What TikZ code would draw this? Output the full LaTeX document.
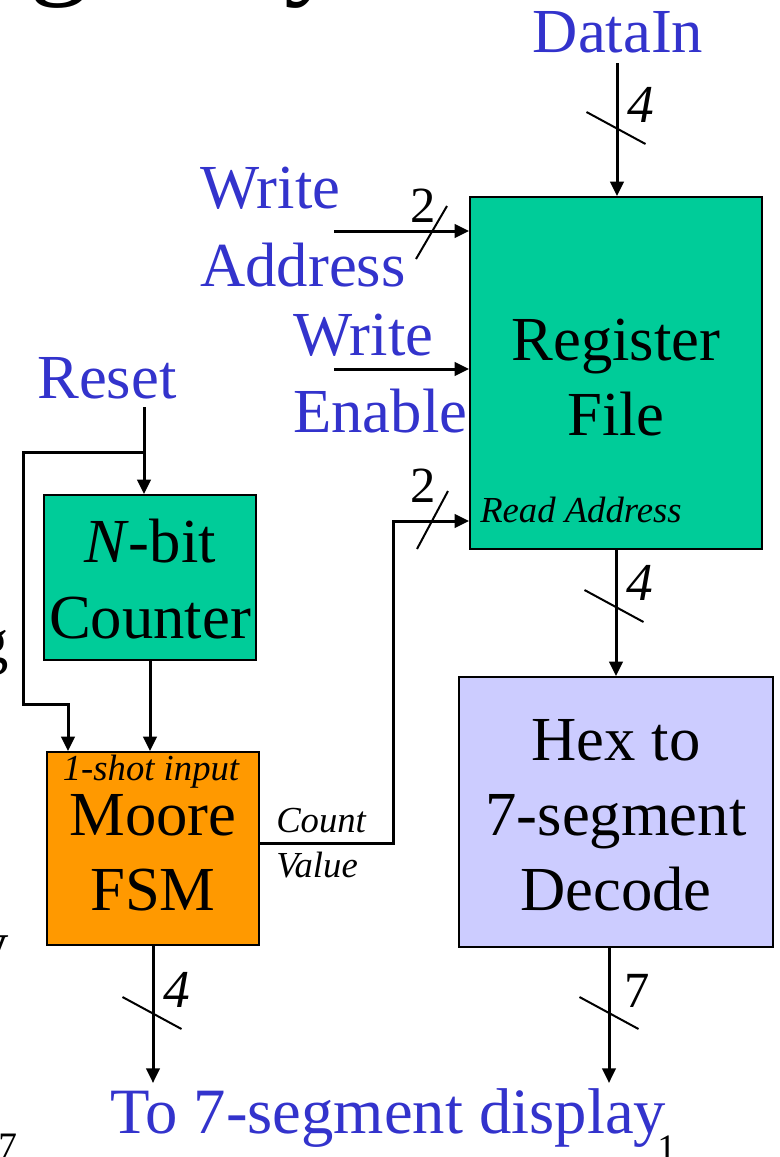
\documentclass[tikz,border=0pt]{standalone}
\usepackage{fontspec}
\setmainfont{Liberation Serif}
\usetikzlibrary{arrows.meta,calc,fit}
\definecolor{regteal}{HTML}{00CC99}
\definecolor{fsmorange}{HTML}{FF9900}
\definecolor{declav}{HTML}{CCCCFF}
\definecolor{sigblue}{HTML}{3333CC}
\tikzset{
  wire/.style={line width=2.25pt},
  sig/.style={wire, -{Triangle[length=11pt,width=10pt]}},
  busmark/.style={line width=1.5pt},
  block/.style={draw=black, line width=1.2pt, inner sep=0pt},
  bigtxt/.style={font=\fontsize{47}{56}\selectfont, inner sep=0pt},
  sigtxt/.style={bigtxt, text=sigblue},
  smalltxt/.style={font=\fontsize{27.5}{33}\selectfont\itshape, inner sep=0pt},
  widthnum/.style={font=\fontsize{38}{40}\selectfont, inner sep=0pt, anchor=base},
  widthnumit/.style={font=\fontsize{40}{42}\selectfont\itshape, inner sep=0pt, anchor=base},
  edgetxt/.style={inner sep=0pt, anchor=base west},
}
\begin{document}
\begin{tikzpicture}[x=0.75pt,y=-0.75pt]
\useasboundingbox (0,0) rectangle (780,1157);
\clip (0,0) rectangle (780,1157);

% text cut off at the edges of the slide
\node[edgetxt, font=\fontsize{90}{90}\selectfont] (tg) at (29,-18) {g};
\node[edgetxt, font=\fontsize{90}{90}\selectfont] (ty) at (284,-18) {y};
\node[edgetxt, font=\fontsize{47}{56}\selectfont] (lg) at (-23,662) {g};
\node[edgetxt, font=\fontsize{47}{56}\selectfont] (ly) at (-23,964) {y};
\node[edgetxt, font=\fontsize{28}{30}\selectfont] (f7) at (-2,1158) {7};
\node[edgetxt, font=\fontsize{28}{30}\selectfont] (f1) at (657,1160) {1};

% blocks
\node[block, fill=regteal, fit={(470,197) (762,549)}] (rf) {};
\node[block, fill=regteal, fit={(44,495) (256,660)}] (cnt) {};
\node[block, fill=fsmorange, fit={(47,752) (259,945)}] (fsm) {};
\node[block, fill=declav, fit={(459,677) (773,947)}] (hex) {};

% block texts
\node[bigtxt, anchor=base] (rfa) at (616,360) {Register};
\node[bigtxt, anchor=base] (rfb) at (616,435) {File};
\node[smalltxt, anchor=base west] (rfc) at (480,522) {Read Address};
\node[bigtxt, anchor=base] (cnta) at (150,562) {\textit{N}-bit};
\node[bigtxt, anchor=base] (cntb) at (150,638) {Counter};
\node[smalltxt, anchor=base] (fsmc) at (151,780) {1-shot input};
\node[bigtxt, anchor=base] (fsma) at (153,835) {Moore};
\node[bigtxt, anchor=base] (fsmb) at (153,910) {FSM};
\node[bigtxt, anchor=base] (hexa) at (616,760) {Hex to};
\node[bigtxt, anchor=base] (hexb) at (616,835) {7-segment};
\node[bigtxt, anchor=base] (hexc) at (616,910) {Decode};

% signal names
\node[sigtxt, anchor=base] (din) at (618,52) {DataIn};
\node[sigtxt, anchor=base west] (wa1) at (200,208) {Write};
\node[sigtxt, anchor=base west] (wa2) at (200,286) {Address};
\node[sigtxt, anchor=base west] (we1) at (293,355) {Write};
\node[sigtxt, anchor=base west] (we2) at (293,432) {Enable};
\node[sigtxt, anchor=base west] (rst) at (37,398) {Reset};
\node[sigtxt, anchor=base west, font=\fontsize{48.5}{56}\selectfont] (disp) at (110,1133) {To 7-segment display};
\node[smalltxt, anchor=base west] (cv1) at (276,832) {Count};
\node[smalltxt, anchor=base west] (cv2) at (276,877) {Value};

% free wire ends
\coordinate (dinTail) at (617,63);
\coordinate (waTail) at (334,231);
\coordinate (weTail) at (334,369);
\coordinate (rstTail) at (144,407);
\coordinate (rstSplit) at (144,452);
\coordinate (fsmRst) at (68,704);
\coordinate (cvBend) at (393,843);
\coordinate (dispL) at (153,1083);
\coordinate (dispR) at (609,1083);

% connectors
\draw[sig] (dinTail) -- (dinTail |- rf.north);
\draw[sig] (waTail) -- (waTail -| rf.west);
\draw[sig] (weTail) -- (weTail -| rf.west);
\draw[sig] (rstTail) -- (rstTail |- cnt.north);
\draw[sig] (rstSplit) -- ++(-121,0) |- (fsmRst) -- (fsmRst |- fsm.north);
\draw[sig] (cnt.south) -- (cnt.south |- fsm.north);
\draw[sig] (fsm.east |- cvBend) -- (cvBend) |- (rf.west |- 0,521);
\draw[sig] (rf.south) -- (hex.north);
\draw[sig] (fsm.south) -- (dispL);
\draw[sig] (hex.south -| dispR) -- (dispR);

% bus width marks
\coordinate (bDin) at (616,128);
\coordinate (bWa) at (431.5,231);
\coordinate (bRa) at (432.5,521);
\coordinate (bRf) at (614,606);
\coordinate (bFsm) at (152,1013);
\coordinate (bHex) at (609,1013);
\foreach \b in {bDin,bRf,bFsm,bHex}
  \draw[busmark] ($(\b)+(-29.5,-16)$) -- ($(\b)+(29.5,16)$);
\draw[busmark] ($(bWa)+(-15.5,28)$) -- ($(bWa)+(15.5,-25)$);
\draw[busmark] ($(bRa)+(-15.5,28)$) -- ($(bRa)+(15.5,-30)$);

\node[widthnumit] (nDin) at (641,122) {4};
\node[widthnum] (nWa) at (423,222) {2};
\node[widthnum] (nRa) at (423,502) {2};
\node[widthnumit] (nRf) at (640,600) {4};
\node[widthnumit] (nFsm) at (177,1007) {4};
\node[widthnum] (nHex) at (637,1007) {7};
\end{tikzpicture}
\end{document}
